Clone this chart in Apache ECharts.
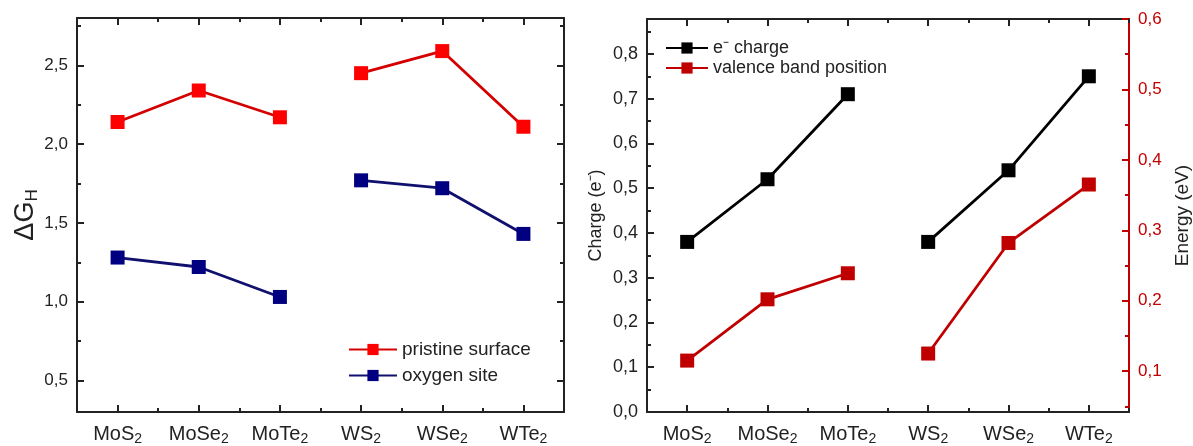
<!DOCTYPE html>
<html>
<head>
<meta charset="utf-8">
<script src="https://cdn.jsdelivr.net/npm/echarts@6/dist/echarts.min.js"></script>
<style>html,body{margin:0;padding:0;background:#fff;}#c{width:1193px;height:446px;}</style>
</head>
<body>
<div id="c"></div>
<script>
// ---- data ----
const categories = ['MoS2', 'MoSe2', 'MoTe2', 'WS2', 'WSe2', 'WTe2'];
const pristine = [2.14, 2.34, 2.17, 2.45, 2.59, 2.11];
const oxygen = [1.28, 1.22, 1.03, 1.77, 1.72, 1.43];
const charge = [0.38, 0.52, 0.71, 0.38, 0.54, 0.75];
const valence = [0.115, 0.202, 0.239, 0.125, 0.282, 0.365];
const groups = [[0, 1, 2], [3, 4, 5]];
const dgTicks = [0.5, 1.0, 1.5, 2.0, 2.5];
const dgMinor = [0.75, 1.25, 1.75, 2.25, 2.75];
const chargeTicks = [0, 0.1, 0.2, 0.3, 0.4, 0.5, 0.6, 0.7, 0.8];
const chargeMinor = [0.05, 0.15, 0.25, 0.35, 0.45, 0.55, 0.65, 0.75, 0.85];
const energyTicks = [0.1, 0.2, 0.3, 0.4, 0.5, 0.6];
const energyMinor = [0.05, 0.15, 0.25, 0.35, 0.45, 0.55];

// ---- helpers ----
const FONT = 'Liberation Sans, Arial, sans-serif';
const part = (arr, g) => arr.map((v, i) => (g.includes(i) ? v : null));
const comma = v => (Math.round(v * 10) / 10).toFixed(1).replace('.', ',');
const catFmt = v => { const m = v.match(/^(.*?)(\d)$/); return '{b|' + m[1] + '}{s|' + m[2] + '}'; };

function xAxes(gi, lineColor) {
  const line = { show: true, lineStyle: { color: lineColor, width: 2 } };
  return [
    { type: 'category', gridIndex: gi, position: 'bottom', data: categories, boundaryGap: true,
      axisLine: line, axisTick: { show: true, alignWithLabel: true, interval: 0, inside: true, length: 7, lineStyle: { color: lineColor, width: 2 } },
      axisLabel: { show: true, interval: 0, hideOverlap: false, margin: 10, formatter: catFmt, rich: {
        b: { fontSize: 20, fontFamily: FONT, color: '#222' },
        s: { fontSize: 14, fontFamily: FONT, color: '#222', padding: [10, 0, 0, 0] } } },
      splitLine: { show: false } },
    { type: 'category', gridIndex: gi, position: 'bottom', data: categories, boundaryGap: true,
      axisLine: { show: false }, axisTick: { show: true, interval: 0, inside: true, length: 4, lineStyle: { color: lineColor, width: 2 } },
      axisLabel: { show: false }, splitLine: { show: false } },
    { type: 'category', gridIndex: gi, position: 'top', data: categories, boundaryGap: true,
      axisLine: line, axisTick: { show: true, alignWithLabel: true, interval: 0, inside: true, length: 7, lineStyle: { color: lineColor, width: 2 } },
      axisLabel: { show: false }, splitLine: { show: false } },
    { type: 'category', gridIndex: gi, position: 'top', data: categories, boundaryGap: true,
      axisLine: { show: false }, axisTick: { show: true, interval: 0, inside: true, length: 4, lineStyle: { color: lineColor, width: 2 } },
      axisLabel: { show: false }, splitLine: { show: false } }
  ];
}

function yPair(gi, pos, min, max, major, minor, color, labelColor, labelSize, showLabel, name, nameOpts) {
  const main = {
    type: 'value', gridIndex: gi, position: pos, min: min, max: max,
    axisLine: { show: true, lineStyle: { color: color, width: 2 } },
    axisTick: { show: true, inside: true, length: 7, customValues: major, lineStyle: { color: color, width: 2 } },
    axisLabel: { show: showLabel, customValues: major, formatter: comma, fontSize: labelSize, fontFamily: FONT, color: labelColor, margin: 9 },
    splitLine: { show: false }
  };
  if (name) Object.assign(main, { name: name }, nameOpts);
  const mn = {
    type: 'value', gridIndex: gi, position: pos, min: min, max: max,
    axisLine: { show: false },
    axisTick: { show: true, inside: true, length: 4, customValues: minor, lineStyle: { color: color, width: 2 } },
    axisLabel: { show: false }, splitLine: { show: false }
  };
  return [main, mn];
}

function lineSeries(name, data, xi, yi, lineColor, markColor) {
  return groups.map(g => ({
    name: name, type: 'line', xAxisIndex: xi, yAxisIndex: yi, data: part(data, g),
    symbol: 'rect', symbolSize: 14, connectNulls: false,
    lineStyle: { color: lineColor, width: 2.8 },
    itemStyle: { color: markColor },
    emphasis: { disabled: true }
  }));
}

const dark = '#222';
const red = '#c00000';

const option = {
  animation: false,
  backgroundColor: '#fff',
  grid: [
    { left: 77, top: 18, width: 487, height: 394 },
    { left: 647, top: 19, width: 486, height: 394 }
  ],
  xAxis: [].concat(xAxes(0, dark), xAxes(1, dark)),
  yAxis: [].concat(
    yPair(0, 'left', 0.3, 2.8, dgTicks, dgMinor, dark, '#222', 17, true, '{a|ΔG}{s|H}', {
      nameLocation: 'middle', nameGap: 36, nameRotate: 90,
      nameTextStyle: { rich: { a: { fontSize: 27, fontFamily: FONT, color: '#222' }, s: { fontSize: 17, fontFamily: FONT, color: '#222', padding: [12, 0, 0, 0] } } }
    }),
    yPair(0, 'right', 0.3, 2.8, dgTicks, dgMinor, dark, '#222', 17, false),
    yPair(1, 'left', 0, 0.878, chargeTicks, chargeMinor, dark, '#222', 18, true, 'Charge (e⁻)', {
      nameLocation: 'middle', nameGap: 42, nameRotate: 90,
      nameTextStyle: { fontSize: 18, fontFamily: FONT, color: '#222' }
    }),
    yPair(1, 'right', 0.042, 0.6, energyTicks, energyMinor, red, red, 17, true, 'Energy (eV)', {
      nameLocation: 'middle', nameGap: 44, nameRotate: 90,
      nameTextStyle: { fontSize: 19, fontFamily: FONT, color: '#222' }
    })
  ),
  legend: [
    { data: ['pristine surface', 'oxygen site'], orient: 'vertical', left: 343, top: 335,
      itemWidth: 48, itemHeight: 14, itemGap: 7, itemTextGap: 4, selectedMode: false,
      textStyle: { fontSize: 19, fontFamily: FONT, color: '#222' } },
    { data: ['e⁻ charge', 'valence band position'], orient: 'vertical', left: 660, top: 34,
      itemWidth: 42, itemHeight: 14, itemGap: 2, itemTextGap: 4, selectedMode: false,
      textStyle: { fontSize: 18, fontFamily: FONT, color: '#222' } }
  ],
  series: [].concat(
    lineSeries('pristine surface', pristine, 0, 0, '#d40000', '#ff0000'),
    lineSeries('oxygen site', oxygen, 0, 0, '#10106e', '#000080'),
    lineSeries('e⁻ charge', charge, 4, 4, '#000000', '#000000'),
    lineSeries('valence band position', valence, 4, 6, red, red)
  )
};

const chart = echarts.init(document.getElementById('c'), null, { renderer: 'canvas' });
chart.setOption(option);
</script>
</body>
</html>
